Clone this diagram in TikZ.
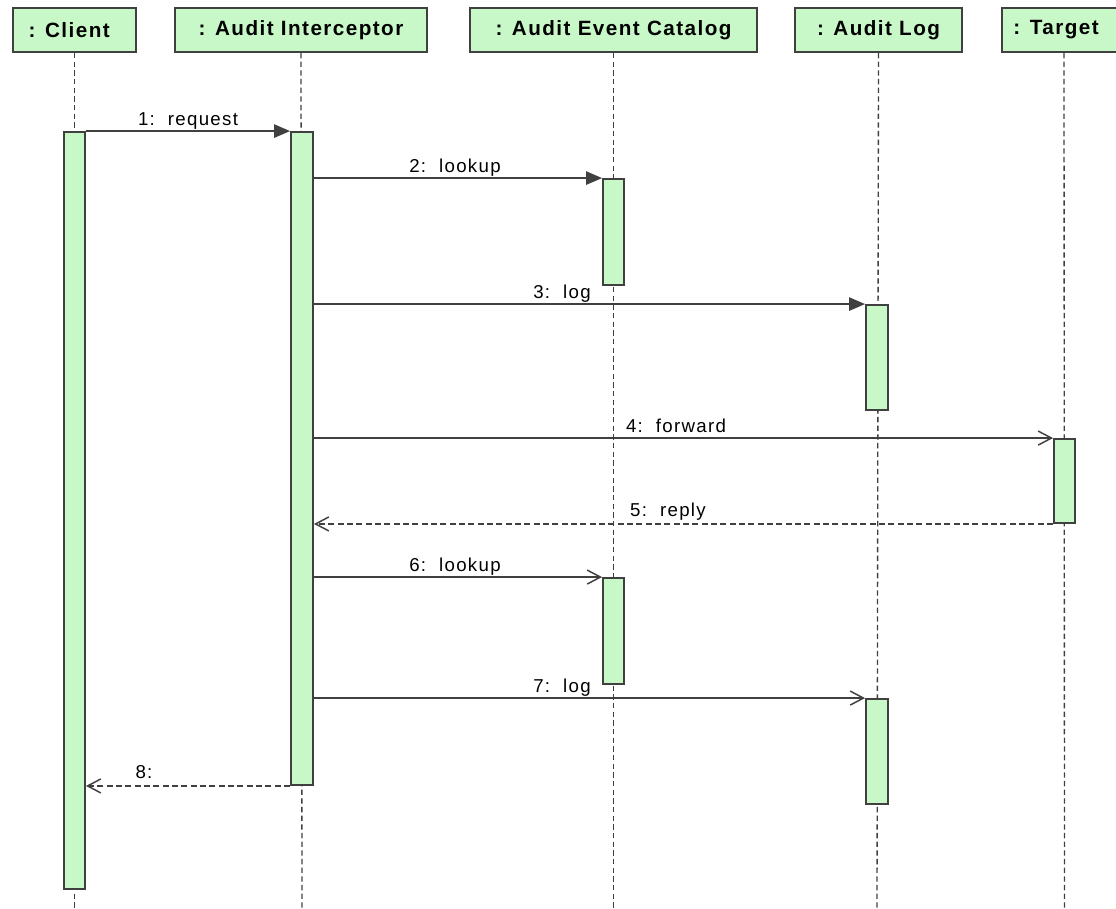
\documentclass[tikz,border=0pt]{standalone}
\usepackage{fontspec}
\setmainfont{Liberation Sans}
\usetikzlibrary{fit,arrows.meta}
\definecolor{actfill}{RGB}{200,248,200}
\definecolor{ink}{RGB}{64,64,64}
\begin{document}
\begin{tikzpicture}[x=0.75pt,y=-0.75pt,
  hdr/.style={draw=ink, fill=actfill, line width=1.4pt, inner sep=0pt},
  hdrlbl/.style={inner sep=0pt, text=black,
    font=\fontsize{15.5}{18}\selectfont\bfseries\addfontfeatures{LetterSpace=7}},
  act/.style={draw=ink, fill=actfill, line width=1.4pt, inner sep=0pt},
  life/.style={draw=ink, line width=1pt, dash pattern=on 4pt off 2.5pt},
  call/.style={draw=ink, line width=1.2pt, -{Triangle[length=12pt,width=10pt]}},
  msg/.style={draw=ink, line width=1.2pt, -{Straight Barb[length=10pt,width=10.5pt,line width=1.1pt]}},
  ret/.style={msg, dash pattern=on 4.5pt off 2.5pt},
  lbl/.style={font=\fontsize{14}{16}\selectfont\addfontfeatures{LetterSpace=7}, inner sep=0pt, anchor=base, text=black}
]
\useasboundingbox (0,0) rectangle (1116,908);

% participants
\node[hdr, fit={(13,8)(136,52)}] (cl) {};
\node[hdr, fit={(175,8)(427,52)}] (ic) {};
\node[hdr, fit={(470,8)(757,52)}] (ec) {};
\node[hdr, fit={(795,8)(962,52)}] (al) {};
\node[hdr, fit={(1002,8)(1126,52)}] (tg) {};
\node[hdrlbl] (clt) at ([xshift=-4]cl.center) {: Client};
\node[hdrlbl] (ict) at (ic.center) {: Audit Interceptor};
\node[hdrlbl] (ect) at (ec.center) {: Audit Event Catalog};
\node[hdrlbl] (alt) at (al.center) {: Audit Log};
\node[hdrlbl] (tgt) at ([xshift=-6]tg.center) {: Target};

% lifeline ends
\coordinate (clend) at (74.5,908);
\coordinate (icend) at (302,908);
\coordinate (ecend) at (613.5,908);
\coordinate (alend) at (877,908);
\coordinate (tgend) at (1064.5,908);

\draw[life] (cl.south) -- (clend);
\draw[life] (ic.south) -- (icend);
\draw[life] (ec.south) -- (ecend);
\draw[life] (al.south) -- (alend);
\draw[life] (tg.south) -- (tgend);

% activations
\node[act, fit={(64,132)(85,889)}] (aCl) {};
\node[act, fit={(291,132)(313,785)}] (aIc) {};
\node[act, fit={(603,179)(624,285)}] (aEc1) {};
\node[act, fit={(866,305)(888,410)}] (aAl1) {};
\node[act, fit={(1054,439)(1075,523)}] (aTg) {};
\node[act, fit={(603,578)(624,684)}] (aEc2) {};
\node[act, fit={(866,699)(888,804)}] (aAl2) {};

% messages
\draw[call] (aCl.north east) -- (aIc.north west);
\draw[call] (aIc.east |- aEc1.north) -- (aEc1.north west);
\draw[call] (aIc.east |- aAl1.north) -- (aAl1.north west);
\draw[msg] (aIc.east |- aTg.north) -- (aTg.north west);
\draw[ret] (aTg.south west) -- (aIc.east |- aTg.south);
\draw[msg] (aIc.east |- aEc2.north) -- (aEc2.north west);
\draw[msg] (aIc.east |- aAl2.north) -- (aAl2.north west);
\draw[ret] (aIc.south west) -- (aCl.east |- aIc.south);

% message labels
\node[lbl] (l1) at (188,125) {1:\ \ request};
\node[lbl] (l2) at (455,172) {2:\ \ lookup};
\node[lbl] (l3) at (562,298) {3:\ \ log};
\node[lbl] (l4) at (676,432) {4:\ \ forward};
\node[lbl] (l5) at (668,516) {5:\ \ reply};
\node[lbl] (l6) at (455,571) {6:\ \ lookup};
\node[lbl] (l7) at (562,692) {7:\ \ log};
\node[lbl] (l8) at (144,778) {8:};
\end{tikzpicture}
\end{document}
